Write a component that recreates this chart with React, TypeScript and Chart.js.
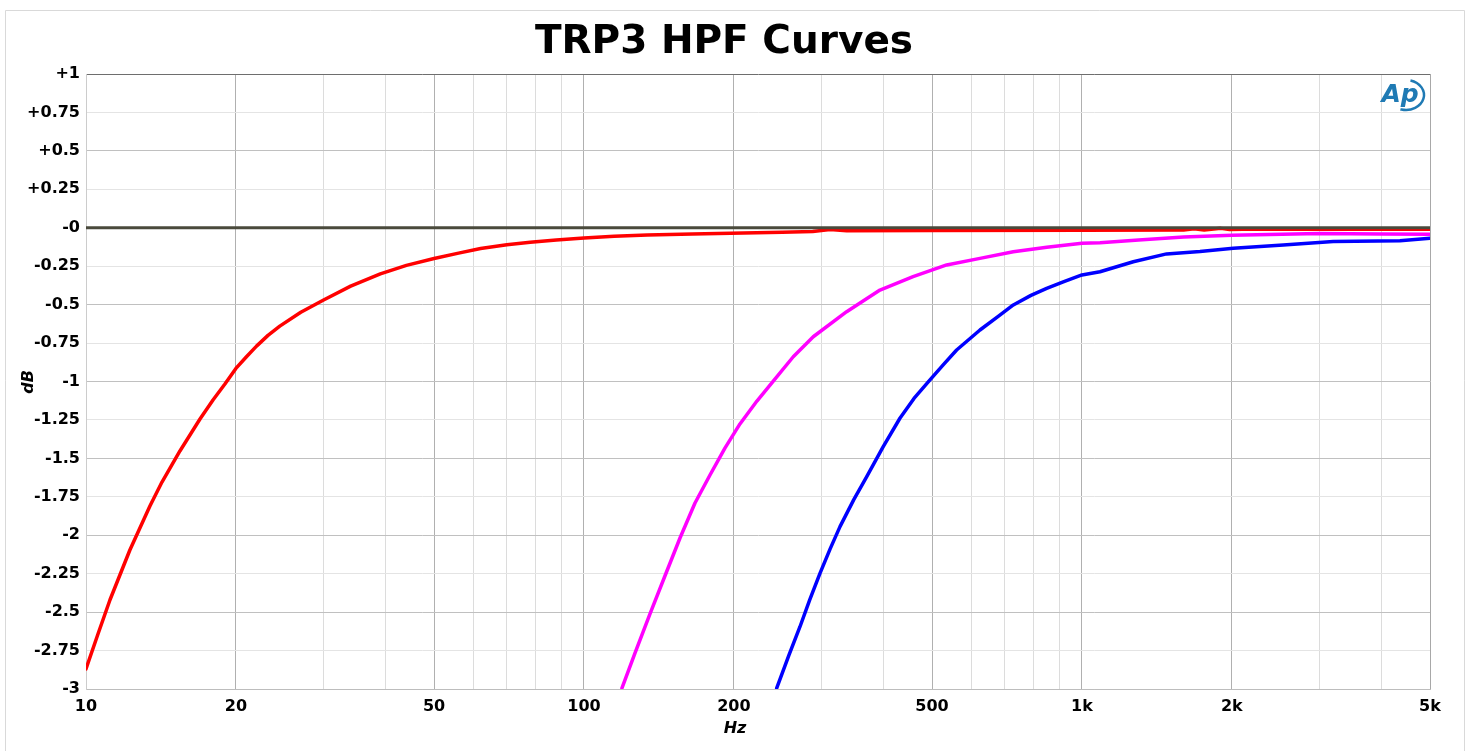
import React, { useEffect, useRef } from 'react';
import { Chart, registerables } from 'chart.js';

Chart.register(...registerables);

const titleText = 'TRP3 HPF Curves';
const xAxisTitle = 'Hz';
const yAxisTitle = 'dB';

const redFreq = [10, 10.57, 11.17, 12.25, 13.44, 14.21, 15.44, 16.94, 17.99, 19.01, 20, 21, 22, 23.2, 24.5, 27, 30, 34, 39, 44, 50, 56, 62, 70, 78, 88, 100, 115, 134, 165, 197, 250, 288, 312, 337, 500, 1000, 1600, 1680, 1760, 1900, 1980, 2100, 5000];
const redDb = [-2.87, -2.642, -2.421, -2.096, -1.81, -1.654, -1.452, -1.244, -1.12, -1.016, -0.915, -0.839, -0.77, -0.7, -0.64, -0.55, -0.47, -0.38, -0.3, -0.245, -0.2, -0.165, -0.135, -0.11, -0.095, -0.08, -0.066, -0.055, -0.047, -0.04, -0.035, -0.03, -0.025, -0.012, -0.019, -0.018, -0.017, -0.014, -0.006, -0.014, -0.004, -0.012, -0.01, -0.01];

const magentaFreq = [119.2, 126.6, 135.7, 145.4, 155.9, 167.1, 179.1, 191.9, 205.7, 222.5, 241.8, 263.2, 288.7, 336.9, 393, 458, 535, 624, 728, 850, 1000, 1087, 1300, 1600, 2000, 3000, 4000, 5000];
const magentaDb = [-2.995, -2.766, -2.512, -2.265, -2.018, -1.79, -1.608, -1.433, -1.276, -1.127, -0.984, -0.839, -0.709, -0.546, -0.405, -0.318, -0.242, -0.199, -0.156, -0.127, -0.101, -0.097, -0.08, -0.06, -0.048, -0.037, -0.04, -0.042];

const blueFreq = [243.8, 258, 271.5, 284, 297.8, 312, 326.7, 348, 369.7, 399, 431, 460, 495.3, 527, 560.2, 624.1, 680, 728.1, 790, 849.5, 920, 1000, 1087, 1268, 1479, 1726, 2013, 2537, 3196, 4351, 5000];
const blueDb = [-2.995, -2.78, -2.595, -2.42, -2.248, -2.09, -1.944, -1.77, -1.619, -1.424, -1.239, -1.11, -0.99, -0.89, -0.795, -0.665, -0.575, -0.502, -0.44, -0.394, -0.35, -0.307, -0.286, -0.221, -0.17, -0.155, -0.134, -0.112, -0.09, -0.084, -0.069];

const zeroFreq = [10, 5000];
const zeroDb = [0, 0];

const xMajorTicks = [10, 20, 50, 100, 200, 500, 1000, 2000, 5000];
const xMajorLabels = ['10', '20', '50', '100', '200', '500', '1k', '2k', '5k'];
const xMinorTicks = [30, 40, 60, 70, 80, 90, 300, 400, 600, 700, 800, 900, 3000, 4000];

const yTicks = [1, 0.75, 0.5, 0.25, 0, -0.25, -0.5, -0.75, -1, -1.25, -1.5, -1.75, -2, -2.25, -2.5, -2.75, -3];
const yTickLabels = ['+1', '+0.75', '+0.5', '+0.25', '-0', '-0.25', '-0.5', '-0.75', '-1', '-1.25', '-1.5', '-1.75', '-2', '-2.25', '-2.5', '-2.75', '-3'];

const FONT = 'DejaVu Sans';

const decorPlugin = {
  id: 'decor',
  beforeDraw(chart: any) {
    const ctx = chart.ctx;
    ctx.save();
    ctx.fillStyle = '#ffffff';
    ctx.fillRect(0, 0, chart.width, chart.height);
    ctx.strokeStyle = '#d9d9d9';
    ctx.lineWidth = 1;
    ctx.beginPath();
    ctx.moveTo(5.5, 751);
    ctx.lineTo(5.5, 10.5);
    ctx.lineTo(1464.5, 10.5);
    ctx.lineTo(1464.5, 751);
    ctx.stroke();
    ctx.restore();
  },
  afterDraw(chart: any) {
    const ctx = chart.ctx;
    const area = chart.chartArea;
    ctx.save();
    ctx.fillStyle = '#000';
    ctx.textAlign = 'center';
    ctx.textBaseline = 'alphabetic';
    ctx.font = `bold 39px "${FONT}"`;
    ctx.fillText(titleText, 724, 53);

    ctx.font = `italic bold 16px "${FONT}"`;
    ctx.textBaseline = 'middle';
    ctx.fillText(xAxisTitle, 735, 729);
    ctx.save();
    ctx.translate(29, 382);
    ctx.rotate(-Math.PI / 2);
    ctx.fillText(yAxisTitle, 0, 0);
    ctx.restore();

    // Ap logo
    const lx = area.right - 26;
    const ly = 95;
    ctx.fillStyle = '#1f7ab4';
    ctx.font = `italic bold 25px "${FONT}"`;
    ctx.textAlign = 'center';
    ctx.textBaseline = 'middle';
    ctx.fillText('Ap', lx - 4, ly);
    ctx.strokeStyle = '#1f7ab4';
    ctx.lineWidth = 2.5;
    ctx.beginPath();
    ctx.ellipse(lx + 2, ly, 18, 15, 0, -Math.PI * 0.42, Math.PI * 0.6);
    ctx.stroke();
    ctx.restore();
  },
};

export default function App() {
  const ref = useRef<HTMLCanvasElement>(null);

  useEffect(() => {
    const toPts = (f: number[], d: number[]) => f.map((x, i) => ({ x, y: d[i] }));
    const tickFont = { family: FONT, size: 16, weight: 'bold' as const };
    const chart = new Chart(ref.current as HTMLCanvasElement, {
      type: 'line',
      data: {
        datasets: [
          { label: 'ref', data: toPts(zeroFreq, zeroDb), borderColor: '#4a4a3c', borderWidth: 3 },
          { label: 'red', data: toPts(redFreq, redDb), borderColor: '#ff0000', borderWidth: 3.5 },
          { label: 'magenta', data: toPts(magentaFreq, magentaDb), borderColor: '#ff00ff', borderWidth: 3.5 },
          { label: 'blue', data: toPts(blueFreq, blueDb), borderColor: '#0000ff', borderWidth: 3.5 },
        ],
      },
      options: {
        responsive: false,
        animation: false,
        devicePixelRatio: 1,
        layout: { padding: { top: 74, right: 41, left: 0, bottom: 0 } },
        elements: { point: { radius: 0 }, line: { tension: 0, borderJoinStyle: 'round', borderCapStyle: 'round' } },
        plugins: { legend: { display: false }, title: { display: false }, tooltip: { enabled: false } },
        scales: {
          x: {
            type: 'logarithmic',
            min: 10,
            max: 5000,
            afterBuildTicks: (s: any) => {
              s.ticks = [...xMajorTicks, ...xMinorTicks].sort((a, b) => a - b).map((v) => ({ value: v }));
            },
            afterFit: (s: any) => {
              s.height = 62;
            },
            ticks: {
              autoSkip: false,
              maxRotation: 0,
              padding: 8,
              color: '#000',
              font: tickFont,
              callback: (v: any) => {
                const i = xMajorTicks.indexOf(Number(v));
                return i >= 0 ? xMajorLabels[i] : '';
              },
            },
            grid: {
              drawTicks: false,
              lineWidth: 1,
              color: (c: any) => {
                const v = c.tick ? c.tick.value : 0;
                if (v === 5000) return '#a8a8a8';
                if (v === 10) return '#cccccc';
                return xMajorTicks.includes(v) ? '#b0b0b0' : '#dcdcdc';
              },
            },
            border: { color: '#bdbdbd' },
          },
          y: {
            type: 'linear',
            min: -3,
            max: 1,
            afterBuildTicks: (s: any) => {
              s.ticks = yTicks.map((v) => ({ value: v }));
            },
            afterFit: (s: any) => {
              s.width = 86;
            },
            ticks: {
              autoSkip: false,
              padding: 6,
              color: '#000',
              font: tickFont,
              callback: (v: any) => {
                const i = yTicks.indexOf(Number(v));
                return i >= 0 ? yTickLabels[i] : '';
              },
            },
            grid: {
              drawTicks: false,
              lineWidth: 1,
              color: (c: any) => {
                const v = c.tick ? c.tick.value : 0;
                if (v === 1) return '#6e6e6e';
                if (v === -3) return '#bdbdbd';
                return Math.abs(v * 2 - Math.round(v * 2)) < 1e-6 ? '#c0c0c0' : '#e4e4e4';
              },
            },
            border: { color: '#cccccc' },
          },
        },
      },
      plugins: [decorPlugin],
    });
    return () => chart.destroy();
  }, []);

  return (
    <div style={{ position: 'fixed', left: 0, top: 0, width: 1471, height: 751, background: '#fff' }}>
      <canvas ref={ref} width={1471} height={751} style={{ display: 'block' }} />
    </div>
  );
}
